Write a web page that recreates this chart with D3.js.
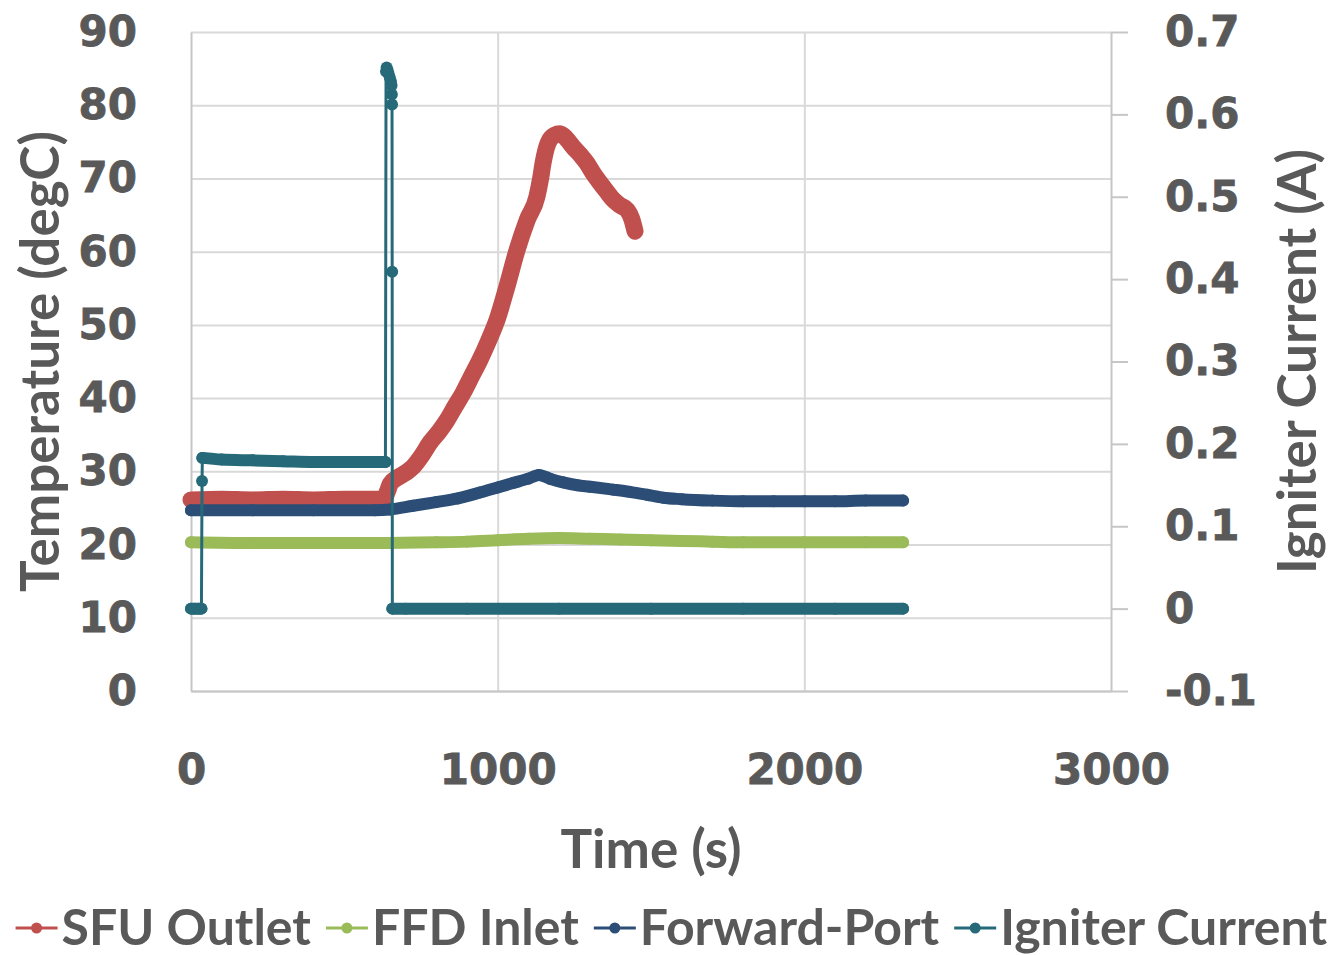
<!DOCTYPE html>
<html>
<head>
<meta charset="utf-8">
<script src="https://cdn.jsdelivr.net/npm/d3@7"></script>
<style>
  body { margin: 0; background: #fff; }
  svg { display: block; }
</style>
</head>
<body>
<div id="chart"></div>
<script>
// Axis ticks
const timeTicks = [0, 1000, 2000, 3000];
const tempTicks = [0, 10, 20, 30, 40, 50, 60, 70, 80, 90];
const currentTicks = [-0.1, 0, 0.1, 0.2, 0.3, 0.4, 0.5, 0.6, 0.7];

// Series values: [time (s), value]
const sfuOutlet = [
  [0, 26.1], [100, 26.2], [200, 26.1], [300, 26.2], [400, 26.1], [500, 26.2],
  [600, 26.2], [630, 26.3], [640, 27.2], [650, 28.3], [672, 29.1], [700, 29.8],
  [724, 30.6], [750, 32.0], [779, 33.9], [810, 35.5], [835, 37.0], [860, 38.8],
  [887, 40.7], [915, 43.0], [942, 45.2], [970, 47.8], [998, 50.7], [1030, 55.2],
  [1063, 60.2], [1096, 64.3], [1128, 67.5], [1140, 70.0], [1148, 72.1], [1164, 74.8],
  [1185, 75.9], [1203, 76.1], [1225, 75.4], [1246, 74.3], [1270, 73.2], [1291, 72.1],
  [1313, 70.6], [1334, 69.4], [1356, 68.2], [1377, 67.1], [1400, 66.3], [1422, 65.7],
  [1437, 64.5], [1448, 62.8]
];
const ffdInlet = [
  [0, 20.3], [200, 20.2], [400, 20.2], [600, 20.2], [800, 20.3], [900, 20.4],
  [1000, 20.6], [1100, 20.8], [1200, 20.9], [1300, 20.8], [1400, 20.7], [1500, 20.6],
  [1600, 20.5], [1700, 20.4], [1800, 20.3], [2000, 20.3], [2200, 20.3], [2322, 20.3]
];
const forwardPort = [
  [0, 24.7], [200, 24.7], [400, 24.7], [600, 24.7], [650, 24.8], [724, 25.3],
  [800, 25.8], [870, 26.3], [942, 27.1], [1000, 27.8], [1050, 28.4], [1100, 29.0],
  [1135, 29.5], [1170, 29.0], [1213, 28.5], [1260, 28.1], [1300, 27.9], [1377, 27.5],
  [1430, 27.2], [1487, 26.8], [1540, 26.4], [1600, 26.2], [1700, 26.0], [1800, 25.9],
  [1900, 25.9], [2000, 25.9], [2100, 25.9], [2200, 26.0], [2322, 26.0]
];
const igniterCurrent = [
  [0, 0], [12, 0], [24, 0], [34, 0], [36, 0.155], [37, 0.183], [100, 0.181],
  [200, 0.180], [300, 0.179], [400, 0.178], [500, 0.178], [600, 0.178], [634, 0.178],
  [636, 0.652], [638, 0.657], [641, 0.654], [644, 0.65], [648, 0.645], [652, 0.64],
  [654, 0.635], [655, 0.624], [655.5, 0.612], [656, 0.409], [656.5, 0], [700, 0],
  [900, 0], [1200, 0], [1500, 0], [1800, 0], [2100, 0], [2322, 0]
];

const seriesNames = ["SFU Outlet", "FFD Inlet", "Forward-Port", "Igniter Current"];
const seriesColors = ["#C0504D", "#9BBB59", "#2C4E76", "#266A7A"];

(() => {
  const width = 1331;
  const height = 955;
  const margin = { top: 32, right: 220, bottom: 264, left: 191 };
  const w = width - margin.left - margin.right;
  const h = height - margin.top - margin.bottom;
  const textColor = "#595959";
  const tickFont = "'DejaVu Sans', Verdana, sans-serif";
  const titleFont = "Lato, 'Open Sans', sans-serif";

  const svg = d3
    .select("#chart")
    .append("svg")
    .attr("width", width)
    .attr("height", height);

  const g = svg
    .append("g")
    .attr("transform", `translate(${margin.left}, ${margin.top})`);

  const xScale = d3.scaleLinear().domain([0, 3000]).range([0, w]);
  const yTemp = d3.scaleLinear().domain([0, 90]).range([h, 0]);
  const yAmp = d3.scaleLinear().domain([-0.1, 0.7]).range([h, 0]);

  // Grid
  g.append("g")
    .attr("class", "grid")
    .call(d3.axisLeft(yTemp).tickValues(tempTicks).tickSize(-w).tickFormat(""))
    .call((s) => s.select(".domain").remove())
    .selectAll(".tick line")
    .style("stroke", "#d9d9d9")
    .style("stroke-width", 2);

  g.append("g")
    .attr("class", "grid")
    .attr("transform", `translate(0, ${h})`)
    .call(d3.axisBottom(xScale).tickValues(timeTicks.slice(1, -1)).tickSize(-h).tickFormat(""))
    .call((s) => s.select(".domain").remove())
    .selectAll(".tick line")
    .style("stroke", "#d9d9d9")
    .style("stroke-width", 2);

  // Axes
  const leftAxis = g
    .append("g")
    .call(d3.axisLeft(yTemp).tickValues(tempTicks).tickSize(0).tickPadding(54).tickFormat(d3.format("d")));

  const bottomAxis = g
    .append("g")
    .attr("transform", `translate(0, ${h})`)
    .call(d3.axisBottom(xScale).tickValues(timeTicks).tickSize(0).tickPadding(63).tickFormat(d3.format("d")));

  const rightAxis = g
    .append("g")
    .attr("transform", `translate(${w}, 0)`)
    .call(
      d3.axisRight(yAmp)
        .tickValues(currentTicks)
        .tickSize(17)
        .tickPadding(37)
        .tickSizeOuter(0)
        .tickFormat((d) => String(+d.toFixed(1)))
    );

  [leftAxis, bottomAxis, rightAxis].forEach((ax) => {
    ax.select(".domain").style("stroke", "#c6c6c6").style("stroke-width", 2);
    ax.selectAll(".tick line").style("stroke", "#c6c6c6").style("stroke-width", 2);
    ax.selectAll(".tick text")
      .style("font-family", tickFont)
      .style("font-weight", "bold")
      .style("font-size", "42px")
      .style("fill", textColor)
      .style("stroke", textColor)
      .style("stroke-width", 0.8);
  });

  // Axis titles
  const titleSize = "53px";
  g.append("text")
    .attr("transform", `translate(${59 - margin.left}, ${h / 2}) rotate(-90)`)
    .attr("text-anchor", "middle")
    .style("font-family", titleFont)
    .style("font-weight", "bold")
    .style("font-size", titleSize)
    .style("fill", textColor)
    .text("Temperature (degC)");

  g.append("text")
    .attr("transform", `translate(${1316 - margin.left}, ${h / 2}) rotate(-90)`)
    .attr("text-anchor", "middle")
    .style("font-family", titleFont)
    .style("font-weight", "bold")
    .style("font-size", titleSize)
    .style("fill", textColor)
    .text("Igniter Current (A)");

  g.append("text")
    .attr("x", w / 2)
    .attr("y", 868 - margin.top)
    .attr("text-anchor", "middle")
    .style("font-family", titleFont)
    .style("font-weight", "bold")
    .style("font-size", titleSize)
    .style("fill", textColor)
    .text("Time (s)");

  // Series
  const series = [
    { name: seriesNames[0], data: sfuOutlet, color: seriesColors[0], y: yTemp, band: 17 },
    { name: seriesNames[1], data: ffdInlet, color: seriesColors[1], y: yTemp, band: 12 },
    { name: seriesNames[2], data: forwardPort, color: seriesColors[2], y: yTemp, band: 12 },
    { name: seriesNames[3], data: igniterCurrent, color: seriesColors[3], y: yAmp, band: 12 },
  ];

  series.forEach((s) => {
    const line = d3
      .line()
      .x((d) => xScale(d[0]))
      .y((d) => s.y(d[1]));

    // dense samples show up as a solid band of markers; jumps are single steps
    const runs = [];
    let run = [s.data[0]];
    for (let i = 1; i < s.data.length; i++) {
      if (s.data[i][0] - s.data[i - 1][0] >= 5) {
        run.push(s.data[i]);
      } else {
        if (run.length > 1) runs.push(run);
        run = [s.data[i]];
      }
    }
    if (run.length > 1) runs.push(run);

    const sg = g.append("g").attr("class", "series");

    sg.append("path")
      .datum(s.data)
      .attr("fill", "none")
      .attr("stroke", s.color)
      .attr("stroke-width", 3)
      .attr("d", line);

    sg.selectAll(".band")
      .data(runs)
      .join("path")
      .attr("class", "band")
      .attr("fill", "none")
      .attr("stroke", s.color)
      .attr("stroke-width", s.band)
      .attr("stroke-linecap", "round")
      .attr("stroke-linejoin", "round")
      .attr("d", d3.line().curve(d3.curveMonotoneX).x((d) => xScale(d[0])).y((d) => s.y(d[1])));

    sg.selectAll("circle")
      .data(s.data)
      .join("circle")
      .attr("cx", (d) => xScale(d[0]))
      .attr("cy", (d) => s.y(d[1]))
      .attr("r", 6)
      .attr("fill", s.color);
  });

  // Legend
  const legend = svg.append("g").attr("class", "legend");
  const symW = 42;
  const items = legend
    .selectAll("g")
    .data(series)
    .join("g");

  items.append("text")
    .attr("x", symW + 4)
    .attr("y", 0)
    .style("font-family", titleFont)
    .style("font-weight", "bold")
    .style("font-size", "50px")
    .style("fill", textColor)
    .text((d) => d.name);

  items.append("line")
    .attr("x1", 0)
    .attr("x2", symW)
    .attr("y1", -17)
    .attr("y2", -17)
    .attr("stroke", (d) => d.color)
    .attr("stroke-width", 3);

  items.append("circle")
    .attr("cx", symW / 2)
    .attr("cy", -17)
    .attr("r", 5.5)
    .attr("fill", (d) => d.color);

  const widths = [];
  items.each(function () {
    widths.push(symW + 4 + d3.select(this).select("text").node().getComputedTextLength());
  });
  const gap = 15;
  const total = d3.sum(widths) + gap * (widths.length - 1);
  // legend is wider than the chart; keep the last entry inside the right edge
  let cursor = width - 4 - total;
  items.attr("transform", (d, i) => {
    const x = cursor;
    cursor += widths[i] + gap;
    return `translate(${x}, 945)`;
  });
})();
</script>
</body>
</html>
